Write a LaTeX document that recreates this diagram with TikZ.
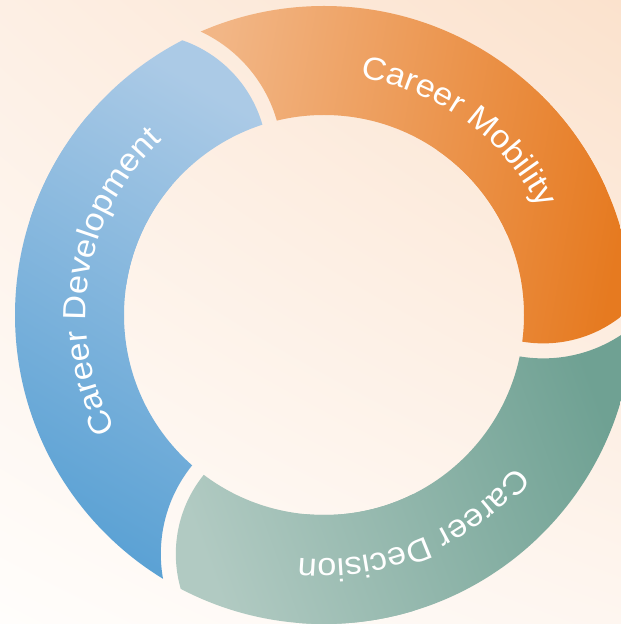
\documentclass[tikz,border=0pt]{standalone}
\usepackage{fontspec}
\newfontfamily\ringfont[FakeStretch=1.07]{Liberation Sans}
\usetikzlibrary{positioning, shadings, decorations.text}

\definecolor{bgpeach}{HTML}{FBE2CD}
\definecolor{bgrose}{HTML}{FDEFE4}
\definecolor{bgwhite}{HTML}{FFFDFB}
\definecolor{bgcream}{HTML}{FEF6F0}
\definecolor{develdark}{HTML}{5AA1D4}
\definecolor{devellight}{HTML}{ABCAE6}
\definecolor{mobildark}{HTML}{E67A20}
\definecolor{mobillight}{HTML}{F2B686}
\definecolor{decisdark}{HTML}{6FA193}
\definecolor{decislight}{HTML}{B1CAC2}

\begin{document}
\begin{tikzpicture}[
                x=1pt, y=1pt,
                ringlabel/.style={decorate, decoration={text along path, text align=center, text color=white,
                    text={|\ringfont\fontsize{32}{38}\selectfont|#1}}},
            ]

                % Fix the page and paint the background
                \useasboundingbox (0,0) rectangle (621,624);
                \clip (0,0) rectangle (621,624);
                \shade[upper right=bgpeach, upper left=bgrose, lower left=bgwhite, lower right=bgcream] (0,0) rectangle (621,624);

                % Centre of the ring and the centres of the gap circles
                \coordinate (ctr) at (324,309);
                \foreach \name / \ang in {1/139.6, 2/24, 3/-95.3}
                    \path (ctr) ++(\ang:240) coordinate (gap-\name);

                % Boxes the segments are shaded over
                \coordinate (devel-sw) at (10,30);
                \coordinate (devel-ne) at (280,590);
                \coordinate (mobil-sw) at (190,270);
                \coordinate (mobil-ne) at (635,622);
                \coordinate (decis-sw) at (165,0);
                \coordinate (decis-ne) at (635,300);

                % Draw the segments: wedge and round tip, cut by the gap before it
                \foreach \seg / \tip / \cut / \tipgap / \cutgap / \shang / \dk / \lt in
                    {devel/139.6/264.7/1/3/-30/develdark/devellight,
                     mobil/24/139.6/2/1/80/mobildark/mobillight,
                     decis/-95.3/24/3/2/110/decisdark/decislight}
                {
                    \begin{scope}[even odd rule]
                        \clip (ctr) circle[radius=309] (ctr) circle[radius=200];
                        \clip (-200,-200) rectangle (900,900) (gap-\cutgap) circle[radius=141];
                        \begin{scope}
                            \clip (ctr) -- ++(\tip:420) arc[start angle=\tip, end angle=\cut, radius=420] -- cycle;
                            \shade[bottom color=\dk, top color=\lt, shading angle=\shang] (\seg-sw) rectangle (\seg-ne);
                        \end{scope}
                        \clip (gap-\tipgap) circle[radius=126];
                        \shade[bottom color=\dk, top color=\lt, shading angle=\shang] (\seg-sw) rectangle (\seg-ne);
                    \end{scope}
                }

                % Labels along the ring, read clockwise
                \path (ctr) ++(113.8:240) coordinate (mobil-start);
                \path (ctr) ++(230.8:238) coordinate (devel-start);
                \path (ctr) ++(-7.2:244) coordinate (decis-start);
                \path[ringlabel={Career Mobility}] (mobil-start) arc[start angle=113.8, end angle=-6.2, radius=240];
                \path[ringlabel={Career Development}] (devel-start) arc[start angle=230.8, end angle=110.8, radius=238];
                \path[ringlabel={Career Decision}] (decis-start) arc[start angle=-7.2, end angle=-127.2, radius=244];
            \end{tikzpicture}
\end{document}
